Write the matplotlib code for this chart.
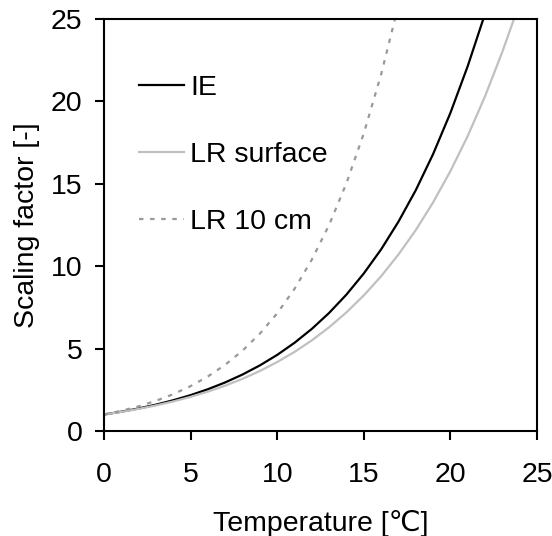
import matplotlib
matplotlib.use("Agg")
import matplotlib.pyplot as plt

plt.rcParams['font.family'] = ['Liberation Sans', 'DejaVu Sans']

# values
temp_ie = [0, 1, 2, 3, 4, 5, 6, 7, 8, 9, 10, 11, 12, 13, 14, 15, 16, 17, 18, 19, 20, 21, 21.9]
ie = [1.0, 1.171, 1.369, 1.599, 1.866, 2.176, 2.535, 2.949, 3.428, 3.981, 4.618, 5.352,
      6.197, 7.167, 8.281, 9.560, 11.02, 12.70, 14.61, 16.80, 19.30, 22.14, 25.0]

temp_surf = [0, 1, 2, 3, 4, 5, 6, 7, 8, 9, 10, 11, 12, 13, 14, 15, 16, 17, 18, 19, 20, 21, 22, 23, 23.67]
lr_surface = [1.0, 1.159, 1.342, 1.553, 1.795, 2.072, 2.389, 2.753, 3.168, 3.642, 4.183, 4.799,
              5.500, 6.297, 7.201, 8.228, 9.390, 10.71, 12.19, 13.87, 15.77, 17.90, 20.31, 23.01, 25.0]

temp_10cm = [0, 1, 2, 3, 4, 5, 6, 7, 8, 9, 10, 11, 12, 13, 14, 15, 16, 16.8]
lr_10cm = [1.0, 1.225, 1.499, 1.832, 2.235, 2.722, 3.311, 4.022, 4.878, 5.907, 7.142, 8.624,
           10.40, 12.51, 15.04, 18.06, 21.64, 25.0]

fs = 20.5

fig = plt.figure(figsize=(5.52, 5.36), dpi=100)
ax = fig.add_axes([104/552, 1 - 431/536, 433/552, 412/536])

ax.plot(temp_ie, ie, color='black', lw=1.6, label='IE')
ax.plot(temp_surf, lr_surface, color='#c0c0c0', lw=1.6, label='LR surface')
ax.plot(temp_10cm, lr_10cm, color='#999999', lw=1.6, linestyle=(0, (2, 3)), label='LR 10 cm')

ax.set_xlim(0, 25)
ax.set_ylim(0, 25)
ax.set_xticks([0, 5, 10, 15, 20, 25])
ax.set_yticks([0, 5, 10, 15, 20, 25])
for s in ax.spines.values():
    s.set_linewidth(1.5)
ax.tick_params(direction='out', length=6.5, width=1.5, labelsize=fs)
ax.tick_params(axis='x', pad=16)
ax.tick_params(axis='y', pad=9)

ax.set_xlabel('Temperature [℃]', fontsize=fs, labelpad=16)
ax.set_ylabel('Scaling factor [-]', fontsize=fs, labelpad=8)

ax.legend(loc='upper left', bbox_to_anchor=(0.08, 0.865), frameon=False, fontsize=fs,
          handlelength=1.6, handletextpad=0.2, labelspacing=1.45, borderpad=0, borderaxespad=0)

fig.savefig('out.png', dpi=100)
